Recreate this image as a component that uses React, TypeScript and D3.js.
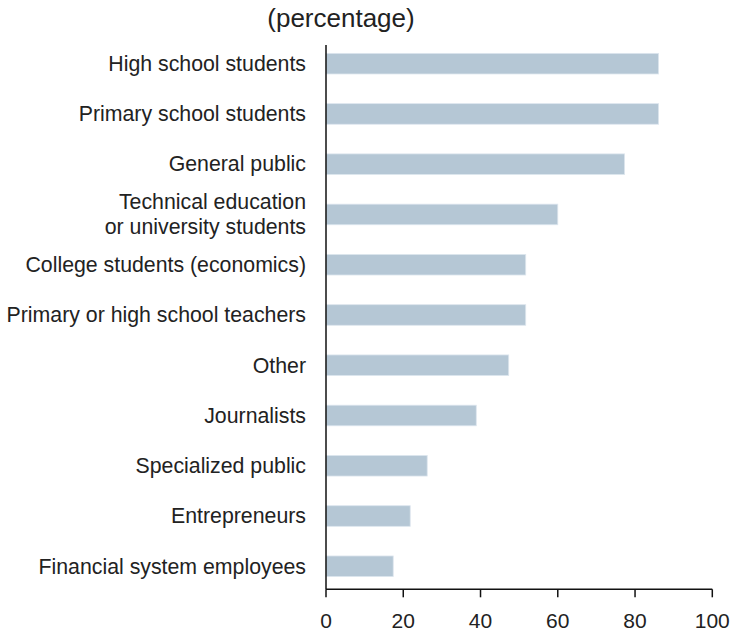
import React from "react";
import * as d3 from "d3";

const categories: string[][] = [
  ["High school students"],
  ["Primary school students"],
  ["General public"],
  ["Technical education", "or university students"],
  ["College students (economics)"],
  ["Primary or high school teachers"],
  ["Other"],
  ["Journalists"],
  ["Specialized public"],
  ["Entrepreneurs"],
  ["Financial system employees"],
];
const values: number[] = [86.1, 86.1, 77.3, 60.0, 51.7, 51.7, 47.3, 38.9, 26.2, 21.8, 17.4];
const xTicks: number[] = [0, 20, 40, 60, 80, 100];
const title = "(percentage)";

const W = 733;
const H = 634;
const FONT = "'Liberation Sans', Arial, Helvetica, sans-serif";

export default function App() {
  const x = d3.scaleLinear().domain([0, 100]).range([326, 712.3]);
  const ids = categories.map((_, i) => String(i));
  const y = d3
    .scaleBand<string>()
    .domain(ids)
    .range([38.55, 591.4])
    .paddingInner(0.59)
    .paddingOuter(0.295);
  const bw = y.bandwidth();
  const axisY = 589.3;

  return (
    <svg
      width={W}
      height={H}
      style={{ position: "absolute", left: 0, top: 0, display: "block", background: "#fff" }}
      fontFamily={FONT}
    >
      <text x={341} y={27} textAnchor="middle" fontSize={26} fill="#222">
        {title}
      </text>
      {values.map((v, i) => (
        <rect
          key={i}
          x={x(0)}
          y={y(String(i))}
          width={x(v) - x(0)}
          height={bw}
          fill="#b5c7d5"
          stroke="#dde6ee"
          strokeWidth={0.8}
        />
      ))}
      {categories.map((lines, i) => {
        const cy = (y(String(i)) as number) + bw / 2;
        const n = lines.length;
        const lh = 25;
        return (
          <text key={i} x={306} textAnchor="end" fontSize={21.3} fill="#222">
            {lines.map((l, j) => (
              <tspan key={j} x={306} y={cy + (j - (n - 1) / 2) * lh + 7.3}>
                {l}
              </tspan>
            ))}
          </text>
        );
      })}
      <line x1={x(0)} x2={x(0)} y1={45} y2={axisY} stroke="#111" strokeWidth={1.5} />
      <line x1={x(0)} x2={x(100)} y1={axisY} y2={axisY} stroke="#111" strokeWidth={1.5} />
      {xTicks.map((t) => (
        <g key={t}>
          <line x1={x(t)} x2={x(t)} y1={axisY} y2={axisY + 8} stroke="#111" strokeWidth={1.5} />
          <text x={x(t)} y={628.3} textAnchor="middle" fontSize={21} fill="#222">
            {t}
          </text>
        </g>
      ))}
    </svg>
  );
}
